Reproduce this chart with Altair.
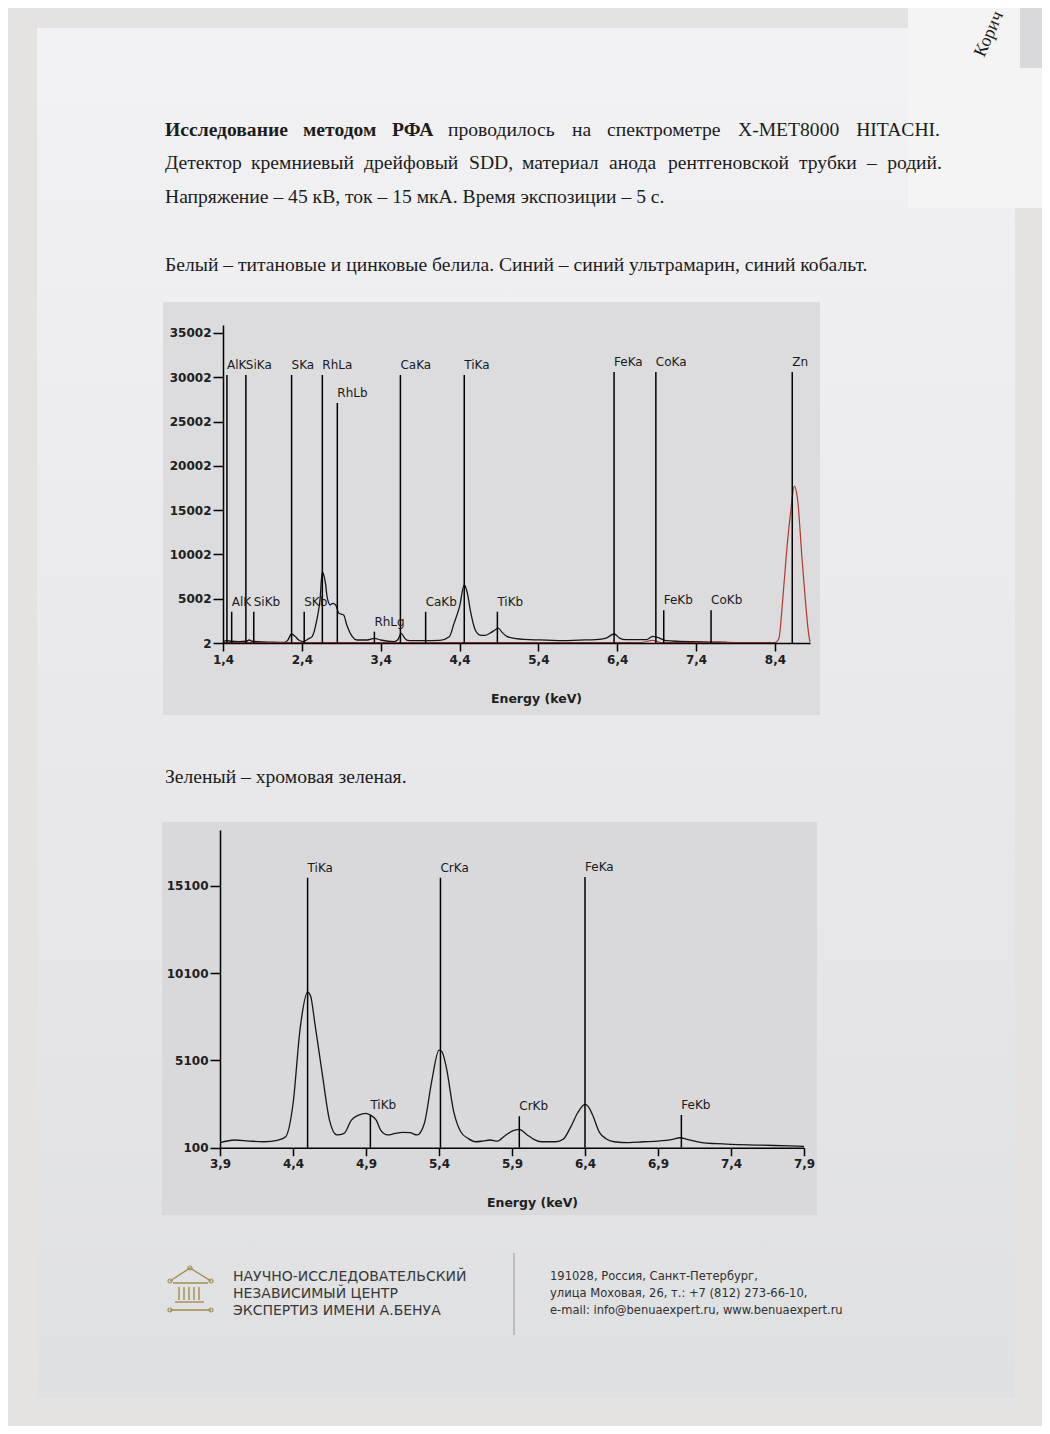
import altair as alt
import pandas as pd

# ---------------- data: spectrum 1 (white / blue paints) ----------------
s1_energy = [1.40, 1.45, 1.50, 1.60, 1.70, 1.73, 1.77, 1.90, 2.05, 2.17,
             2.22, 2.27, 2.32, 2.36, 2.42, 2.48, 2.53, 2.59, 2.63, 2.66,
             2.68, 2.70, 2.72, 2.76, 2.79, 2.83, 2.87, 2.93, 2.97, 3.04,
             3.10, 3.23, 3.32, 3.40, 3.57, 3.62, 3.66, 3.70, 3.73, 3.80,
             3.97, 4.15, 4.27, 4.33, 4.40, 4.46, 4.50, 4.54, 4.60, 4.66,
             4.72, 4.79, 4.85, 4.89, 4.94, 5.00, 5.08, 5.29, 5.50, 5.71,
             5.92, 6.13, 6.26, 6.36, 6.43, 6.51, 6.77, 6.85, 6.91, 7.02,
             7.19, 7.40, 7.60, 7.79]
s1_counts = [150, 260, 200, 150, 200, 340, 200, 120, 100, 60,
             300, 1020, 700, 340, 150, 450, 720, 2600, 4860, 8050,
             7600, 6740, 5230, 4290, 4480, 4290, 3350, 3160, 2030, 720,
             340, 340, 530, 340, 150, 400, 1090, 600, 340, 260,
             260, 300, 715, 2220, 4100, 6550, 5610, 3540, 1470, 900,
             860, 1130, 1470, 1690, 1200, 750, 560, 380, 330, 260,
             330, 380, 560, 1020, 560, 380, 380, 750, 640, 260,
             190, 150, 110, 80]
s1_red_energy = [1.40, 2.00, 3.00, 4.00, 5.00, 6.00, 6.70, 6.85, 6.95, 7.20,
                 7.60, 8.00, 8.40, 8.45, 8.50, 8.55, 8.60, 8.645, 8.69, 8.74,
                 8.78, 8.83, 8.845]
s1_red_counts = [40, 40, 40, 40, 40, 40, 50, 300, 60, 40,
                 90, 40, 40, 500, 5000, 10500, 14800, 17700, 16000, 10000,
                 5500, 900, 100]

m1_names = ["SiKa", "SKa", "RhLa", "RhLb", "CaKa", "TiKa", "FeKa", "CoKa",
            "SiKb", "SKb", "RhLg", "CaKb", "TiKb", "FeKb", "CoKb",
            "AlKa", "AlKb", "ZnKa"]
m1_energy = [1.69, 2.27, 2.66, 2.85, 3.65, 4.46, 6.36, 6.89,
             1.79, 2.43, 3.32, 3.97, 4.88, 6.99, 7.59,
             1.45, 1.51, 8.62]
m1_top = [30250, 30250, 30250, 27100, 30250, 30250, 30600, 30600,
          3530, 3530, 1280, 3530, 3530, 3700, 3700,
          30250, 3530, 30600]
m1_clipped = ["AlKa", "AlKb", "ZnKa"]

x1_ticks = [1.4, 2.4, 3.4, 4.4, 5.4, 6.4, 7.4, 8.4]
y1_ticks = [2, 5002, 10002, 15002, 20002, 25002, 30002, 35002]

# ---------------- data: spectrum 2 (green paint) ----------------
s2_energy = [3.90, 4.00, 4.10, 4.20, 4.30, 4.35, 4.40, 4.45, 4.50, 4.52,
             4.55, 4.60, 4.65, 4.70, 4.75, 4.80, 4.85, 4.90, 4.93, 4.97,
             5.00, 5.05, 5.10, 5.15, 5.20, 5.25, 5.30, 5.35, 5.40, 5.42,
             5.45, 5.50, 5.55, 5.60, 5.65, 5.70, 5.75, 5.80, 5.85, 5.90,
             5.95, 6.00, 6.05, 6.10, 6.20, 6.25, 6.30, 6.35, 6.40, 6.42,
             6.45, 6.50, 6.55, 6.60, 6.70, 6.80, 6.90, 7.00, 7.05, 7.10,
             7.20, 7.30, 7.40, 7.60, 7.80, 7.90]
s2_counts = [390, 540, 480, 440, 540, 730, 2600, 7000, 9000, 8800,
             7200, 4360, 1680, 830, 920, 1680, 1970, 2070, 1970, 1680,
             1110, 830, 920, 980, 960, 830, 1500, 3900, 5690, 5600,
             4700, 2200, 1000, 630, 440, 480, 540, 480, 770, 1050,
             1150, 860, 580, 440, 440, 580, 1250, 2100, 2580, 2480,
             2010, 960, 580, 440, 390, 440, 480, 580, 670, 580,
             390, 330, 290, 250, 200, 180]
m2_names = ["TiKa", "CrKa", "FeKa", "TiKb", "CrKb", "FeKb"]
m2_energy = [4.50, 5.41, 6.40, 4.93, 5.95, 7.06]
m2_top = [15550, 15550, 15600, 1970, 1900, 1970]

x2_ticks = [3.9, 4.4, 4.9, 5.4, 5.9, 6.4, 6.9, 7.4, 7.9]
y2_ticks = [100, 5100, 10100, 15100]

# ---------------- page text ----------------
line1_bold = [("Исследование", 157), ("методом", 295), ("РФА", 384)]
line1_words = [("проводилось", 440), ("на", 564), ("спектрометре", 599), ("X-MET8000", 730)]
line1_last = "HITACHI."
line2_words = [("Детектор", 157), ("кремниевый", 243), ("дрейфовый", 356), ("SDD,", 461),
               ("материал", 514), ("анода", 601), ("рентгеновской", 660), ("трубки", 791), ("–", 859)]
line2_last = "родий."
line3 = "Напряжение – 45 кВ, ток – 15 мкА. Время экспозиции – 5 с."
caption1 = "Белый – титановые и цинковые белила. Синий – синий ультрамарин, синий кобальт."
caption2 = "Зеленый – хромовая зеленая."
org_lines = ["НАУЧНО-ИССЛЕДОВАТЕЛЬСКИЙ", "НЕЗАВИСИМЫЙ ЦЕНТР", "ЭКСПЕРТИЗ ИМЕНИ А.БЕНУА"]
addr_lines = ["191028, Россия, Санкт-Петербург,",
              "улица Моховая, 26, т.: +7 (812) 273-66-10,",
              "e-mail: info@benuaexpert.ru, www.benuaexpert.ru"]

# ---------------- styles ----------------
W, H = 1034, 1418
SERIF = "Liberation Serif"
SANS = "DejaVu Sans"
INK = "#1c1c1c"
GOLD = "#a38d4e"
FS = 19.6
ONE = pd.DataFrame({"a": [0]})
LBL = "replace(format(datum.value, '.1f'), '.', ',')"


def txt(s, x, y, size=FS, weight="normal", font=SERIF, color=INK, align="left", angle=0):
    return alt.Chart(ONE).mark_text(text=s, font=font, fontSize=size, fontWeight=weight,
                                    color=color, align=align, baseline="alphabetic",
                                    angle=angle).encode(x=alt.value(x), y=alt.value(y))


def box(x1, y1, x2, y2, color):
    return alt.Chart(ONE).mark_rect(color=color).encode(
        x=alt.value(x1), x2=alt.value(x2), y=alt.value(y1), y2=alt.value(y2))


def seg(x1, y1, x2, y2, color=GOLD, w=1.4):
    return alt.Chart(ONE).mark_rule(color=color, strokeWidth=w).encode(
        x=alt.value(x1), x2=alt.value(x2), y=alt.value(y1), y2=alt.value(y2))


def dot(x, y):
    return alt.Chart(ONE).mark_point(shape="circle", filled=False, size=16, color=GOLD,
                                     strokeWidth=1.2, opacity=1).encode(x=alt.value(x), y=alt.value(y))


axis_common = dict(domainColor="black", domainWidth=1.5, tickColor="black", tickWidth=1.5,
                   labelFont=SANS, labelFontSize=12, labelFontWeight="bold", labelColor="#202020",
                   grid=False, labelFlush=False, labelOverlap=False, zindex=1,
                   titleFont=SANS, titleFontSize=12.5, titleFontWeight="bold", titleColor="#202020")


def spectrum_panel(energy, counts, red, markers, clipped, xdom, xrange_, ydom, yrange_,
                   xticks, yticks, xoff, yoff, title_x):
    xs = alt.Scale(domain=xdom, range=xrange_, nice=False, zero=False)
    ys = alt.Scale(domain=ydom, range=yrange_, nice=False, zero=False)
    xa = alt.Axis(orient="bottom", offset=xoff, values=xticks, labelExpr=LBL, tickSize=8,
                  labelPadding=3, title="Energy (keV)", titleX=title_x, titleY=55,
                  titleBaseline="middle", titleAnchor="start", titleAlign="center", **axis_common)
    ya = alt.Axis(orient="left", offset=yoff, values=yticks, format="d", tickSize=10,
                  labelPadding=2, title=None, **axis_common)
    X = alt.X("e:Q", scale=xs, axis=xa)
    layers = []
    spec = pd.DataFrame({"e": energy, "c": counts})
    layers.append(alt.Chart(spec).mark_line(color="#161616", strokeWidth=1.3, interpolate="monotone")
                  .encode(x=X, y=alt.Y("c:Q", scale=ys, axis=ya)))
    if red is not None:
        rdf = pd.DataFrame({"e": red[0], "c": red[1]})
        layers.append(alt.Chart(rdf).mark_line(color="#b0392c", strokeWidth=1.2, interpolate="monotone")
                      .encode(x=X, y=alt.Y("c:Q", scale=ys, axis=ya)))
    names, en, top = markers
    mdf = pd.DataFrame({"name": names, "e": en, "c": top, "base": [ydom[0]] * len(names)})
    layers.append(alt.Chart(mdf).mark_rule(color="black", strokeWidth=1.5)
                  .encode(x=X, y=alt.Y("base:Q", scale=ys, axis=ya), y2="c:Q"))
    free = mdf[~mdf["name"].isin(clipped)]
    cut = mdf[mdf["name"].isin(clipped)]
    layers.append(alt.Chart(free).mark_text(align="left", baseline="bottom", dy=-3, font=SANS,
                                            fontSize=12, color="#1a1a1a")
                  .encode(x=X, y=alt.Y("c:Q", scale=ys, axis=ya), text="name:N"))
    if len(cut):
        layers.append(alt.Chart(cut).mark_text(align="left", baseline="bottom", dy=-3, font=SANS,
                                               fontSize=12, color="#1a1a1a", limit=23,
                                               ellipsis="\u200b")
                      .encode(x=X, y=alt.Y("c:Q", scale=ys, axis=ya), text="name:N"))
    return alt.layer(*layers)


panel1 = spectrum_panel(s1_energy, s1_counts, (s1_red_energy, s1_red_counts),
                        (m1_names, m1_energy, m1_top), m1_clipped,
                        [1.4, 8.845], [215, 802], [2, 35900], [635, 317],
                        x1_ticks, y1_ticks, 635 - H, -215, 528)
panel2 = spectrum_panel(s2_energy, s2_counts, None,
                        (m2_names, m2_energy, m2_top), [],
                        [3.9, 7.9], [212, 796], [100, 18290], [1139.7, 822],
                        x2_ticks, y2_ticks, 1139.7 - H, -212, 524)

paper = alt.Chart(ONE).mark_rect(color=alt.Gradient(
    gradient="linear", x1=0, x2=0, y1=0, y2=1,
    stops=[alt.GradientStop(color="#f2f2f4", offset=0),
           alt.GradientStop(color="#e9e9eb", offset=0.5),
           alt.GradientStop(color="#dfe0e2", offset=1)])).encode(
    x=alt.value(29), x2=alt.value(1007), y=alt.value(20), y2=alt.value(1390))

bg = [paper,
      box(900, 0, W, 200, "#f4f4f4"),
      box(1012, 0, W, 60, "#d9d9db"),
      box(155, 294, 812, 707, "#dcdcdf"),
      box(154, 814, 809, 1207, "#d9d9dc")]

texts = []
for w_, x_ in line1_bold:
    texts.append(txt(w_, x_, 128, weight="bold"))
for w_, x_ in line1_words:
    texts.append(txt(w_, x_, 128))
texts.append(txt(line1_last, 932, 128, align="right"))
for w_, x_ in line2_words:
    texts.append(txt(w_, x_, 161))
texts.append(txt(line2_last, 934, 161, align="right"))
texts.append(txt(line3, 157, 195))
texts.append(txt(caption1, 157, 263))
texts.append(txt(caption2, 157, 775))
texts.append(txt("Корич", 976, 50, size=18, angle=294))

for i, s in enumerate(org_lines):
    texts.append(txt(s, 225, 1273 + 17 * i, size=14, font="DejaVu Sans", color="#383838"))
for i, s in enumerate(addr_lines):
    texts.append(txt(s, 542, 1272 + 17 * i, size=12.8,
                     font="Liberation Sans Narrow, DejaVu Sans Condensed, Roboto", color="#303030"))

logo = [seg(506, 1245, 506, 1327, color="#9a9a9a", w=1),
        seg(162, 1273, 182, 1260), seg(182, 1260, 203, 1273),
        seg(165, 1275, 200, 1275),
        seg(171, 1279, 171, 1292), seg(176, 1279, 176, 1292), seg(181, 1279, 181, 1292),
        seg(186, 1279, 186, 1292), seg(191, 1279, 191, 1292),
        seg(167, 1294, 196, 1294),
        seg(162, 1302, 203, 1302),
        dot(162, 1273), dot(182, 1260), dot(203, 1273), dot(162, 1302), dot(203, 1302)]

chart = alt.layer(*bg, panel1, panel2, *texts, *logo).resolve_scale(
    x="independent", y="independent").properties(
    width=W, height=H, padding=0, autosize="none", background="#e4e3e1"
).configure_view(stroke=None)

chart.save("out.html", embed_options={"renderer": "svg", "actions": False})
